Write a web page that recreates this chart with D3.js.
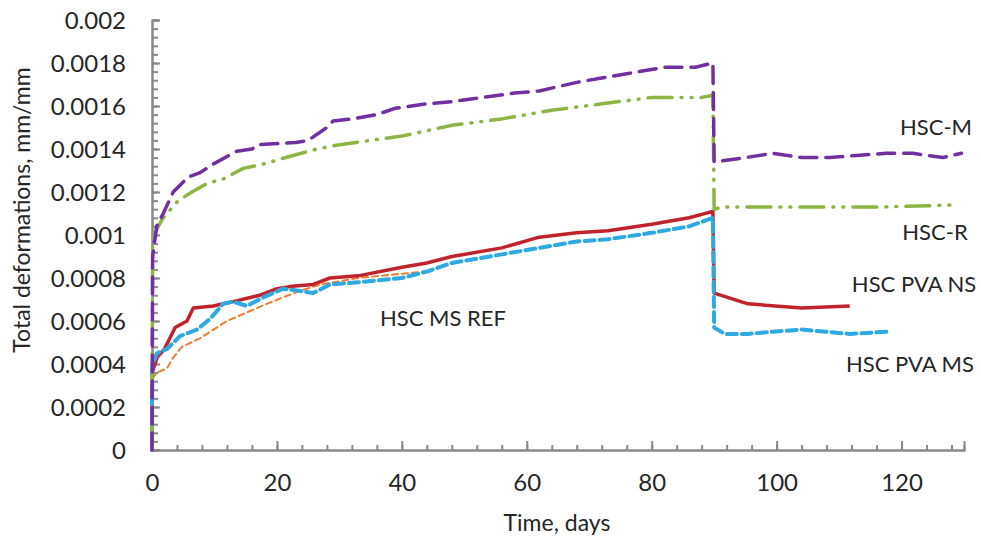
<!DOCTYPE html>
<html>
<head>
<meta charset="utf-8">
<script src="https://cdn.jsdelivr.net/npm/d3@7"></script>
<style>
  body { margin: 0; background: #fff; }
  svg { font-family: Lato, "Open Sans", sans-serif; }
</style>
</head>
<body>
<svg id="chart"></svg>
<script>
// ---- data ----
const yTicks = [0, 0.0002, 0.0004, 0.0006, 0.0008, 0.001, 0.0012, 0.0014, 0.0016, 0.0018, 0.002]
const yTickLabels = ['0', '0.0002', '0.0004', '0.0006', '0.0008', '0.001', '0.0012', '0.0014', '0.0016', '0.0018', '0.002']
const xTicks = [0, 20, 40, 60, 80, 100, 120]

const hscMDays = [0, 0.1, 0.75, 1.8, 3.4, 5.8, 7.7, 9.8, 13.6, 16, 17, 23, 25, 28, 29, 32, 36, 39, 44, 48, 53, 58, 62, 68, 72, 76, 82, 87, 89.8, 90, 95, 99.4, 104, 108.5, 112.8, 117.6, 121.8, 126.6, 129.6]
const hscMVals = [0, 0.0009, 0.00104, 0.0011, 0.0012, 0.00127, 0.00129, 0.00133, 0.00139, 0.0014, 0.00142, 0.00143, 0.00144, 0.0015, 0.00153, 0.00154, 0.00156, 0.00159, 0.00161, 0.00162, 0.00164, 0.00166, 0.00167, 0.00171, 0.00173, 0.00175, 0.00178, 0.00178, 0.0018, 0.00134, 0.00136, 0.00138, 0.00136, 0.00136, 0.00137, 0.00138, 0.00138, 0.00136, 0.00138]

const hscRDays = [0, 0.1, 1, 1.8, 4.2, 6.4, 8.8, 11.4, 14.6, 17.8, 22.6, 26.4, 30, 40, 48, 56, 64, 72, 80, 88, 89.8, 90, 91.4, 102, 116.5, 128.8]
const hscRVals = [0, 0.00098, 0.00104, 0.00108, 0.00116, 0.0012, 0.00124, 0.00126, 0.00131, 0.00133, 0.00137, 0.0014, 0.00142, 0.00146, 0.00151, 0.00154, 0.00158, 0.00161, 0.00164, 0.00164, 0.00165, 0.00112, 0.00113, 0.00113, 0.00113, 0.00114]

const pvaNsDays = [0, 0.05, 0.8, 2, 3.7, 5.6, 6.6, 9.8, 13, 17.3, 20, 22, 25.8, 28.5, 33, 40, 44, 48, 56, 62, 68, 73, 80, 86, 89.8, 90, 95.4, 104, 111.7]
const pvaNsVals = [0, 0.00036, 0.00043, 0.00047, 0.00057, 0.0006, 0.00066, 0.00067, 0.00069, 0.00072, 0.00075, 0.00076, 0.00077, 0.0008, 0.00081, 0.00085, 0.00087, 0.0009, 0.00094, 0.00099, 0.00101, 0.00102, 0.00105, 0.00108, 0.00111, 0.00073, 0.00068, 0.00066, 0.00067]

const pvaMsDays = [0, 0.05, 0.8, 2.4, 4.5, 7.2, 9.3, 11.4, 13, 15.2, 17.8, 21, 23.7, 25.8, 28.5, 33, 40, 44, 48, 56, 62, 68, 73, 80, 86, 89.8, 90, 91.7, 95.4, 99.4, 104, 108, 111.7, 117.6]
const pvaMsVals = [0, 0.0004, 0.00045, 0.00047, 0.00053, 0.00056, 0.00061, 0.00068, 0.00069, 0.00067, 0.00071, 0.00075, 0.00074, 0.00073, 0.00077, 0.00078, 0.0008, 0.00083, 0.00087, 0.00091, 0.00094, 0.00097, 0.00098, 0.00101, 0.00104, 0.00108, 0.00057, 0.00054, 0.00054, 0.00055, 0.00056, 0.00055, 0.00054, 0.00055]

const msRefDays = [0, 0.8, 2.4, 3.4, 4.8, 7.7, 12, 15.2, 18.4, 21, 23.7, 27, 33, 40, 44]
const msRefVals = [0.00033, 0.00036, 0.00038, 0.00043, 0.00048, 0.00052, 0.0006, 0.00064, 0.00068, 0.00071, 0.00074, 0.00077, 0.0008, 0.00082, 0.00083]

const series = [
  { name: 'HSC MS REF', days: msRefDays, vals: msRefVals, color: '#ED7D31', width: 2, dash: '6,4', lx: 443, ly: 326 },
  { name: 'HSC PVA NS', days: pvaNsDays, vals: pvaNsVals, color: '#C0232B', width: 3.5, dash: null, lx: 914, ly: 292 },
  { name: 'HSC PVA MS', days: pvaMsDays, vals: pvaMsVals, color: '#2EA9E1', width: 4, dash: '10,5', lx: 910, ly: 372 },
  { name: 'HSC-R', days: hscRDays, vals: hscRVals, color: '#8CB545', width: 3.5, dash: '24,9,1,9,1,9', lx: 935, ly: 240 },
  { name: 'HSC-M', days: hscMDays, vals: hscMVals, color: '#7030A0', width: 3.5, dash: '17,9', lx: 936, ly: 135 }
]

// ---- layout ----
const width = 981, height = 540
const margin = { top: 20, right: 17, bottom: 90, left: 152 }
const w = width - margin.left - margin.right
const h = height - margin.top - margin.bottom
const axisColor = '#898989'
const textColor = '#262626'

const svg = d3.select('#chart')
  .attr('width', width)
  .attr('height', height)

const g = svg.append('g')
  .attr('transform', `translate(${margin.left},${margin.top})`)

const x = d3.scaleLinear().domain([0, 130]).range([0, w])
const y = d3.scaleLinear().domain([0, 0.002]).range([h, 0])

// minor ticks
const xMinor = d3.axisBottom(x).tickValues(d3.range(0, 130, 4)).tickSize(-5).tickFormat('')
const yMinor = d3.axisLeft(y).tickValues(d3.range(0, 0.00201, 0.00004)).tickSize(-6).tickFormat('')

g.append('g').attr('class', 'x minor').attr('transform', `translate(0,${h})`).call(xMinor)
g.append('g').attr('class', 'y minor').call(yMinor)

const xAxis = d3.axisBottom(x).tickValues(xTicks).tickSize(-9).tickPadding(24)
const yAxis = d3.axisLeft(y).tickValues(yTicks).tickSize(-8).tickPadding(26)
  .tickFormat((d, i) => yTickLabels[i])

g.append('g').attr('class', 'x axis').attr('transform', `translate(0,${h})`).call(xAxis)
g.append('g').attr('class', 'y axis').call(yAxis)

g.selectAll('.axis path, .axis line, .minor path, .minor line')
  .attr('stroke', axisColor)
  .attr('stroke-width', 2)
g.selectAll('.axis text')
  .attr('fill', textColor)
  .attr('font-size', 24)
  .attr('font-family', 'Lato, sans-serif')
g.selectAll('.y.axis text').attr('dy', '0.36em')

// lines
const line = d3.line()
  .x(d => x(d[0]))
  .y(d => y(d[1]))

series.forEach(s => {
  const pts = s.days.map((d, i) => [d, s.vals[i]])
  g.append('path')
    .datum(pts)
    .attr('fill', 'none')
    .attr('stroke', s.color)
    .attr('stroke-width', s.width)
    .attr('stroke-dasharray', s.dash)
    .attr('stroke-linecap', s.dash ? 'round' : 'butt')
    .attr('stroke-linejoin', 'round')
    .attr('d', line)
})

// series labels
series.forEach(s => {
  svg.append('text')
    .attr('x', s.lx)
    .attr('y', s.ly)
    .attr('text-anchor', 'middle')
    .attr('fill', textColor)
    .attr('font-size', 22)
    .text(s.name)
})

// axis titles
svg.append('text')
  .attr('x', 557)
  .attr('y', 531)
  .attr('text-anchor', 'middle')
  .attr('fill', textColor)
  .attr('font-size', 23)
  .text('Time, days')

svg.append('text')
  .attr('transform', 'translate(30,210) rotate(-90)')
  .attr('text-anchor', 'middle')
  .attr('fill', textColor)
  .attr('font-size', 23)
  .text('Total deformations, mm/mm')
</script>
</body>
</html>
